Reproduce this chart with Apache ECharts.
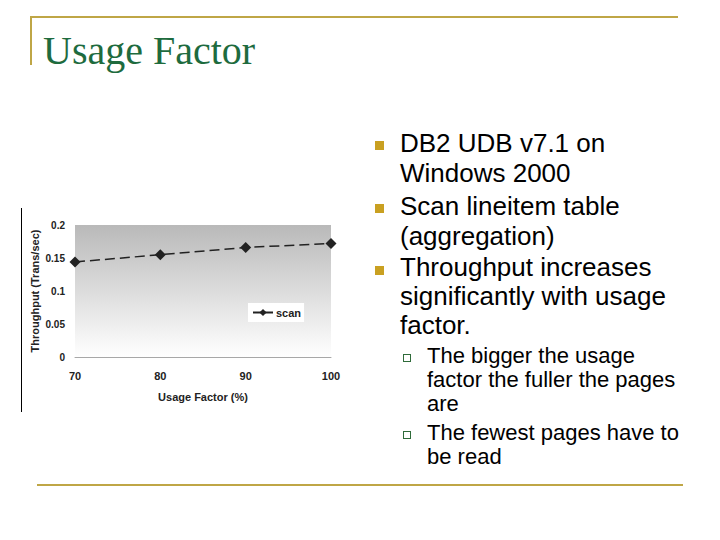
<!DOCTYPE html>
<html>
<head>
<meta charset="utf-8">
<script src="https://cdn.jsdelivr.net/npm/echarts@6/dist/echarts.min.js"></script>
<style>
  html, body { margin: 0; padding: 0; background: #fff; }
  .slide { position: relative; width: 720px; height: 540px; overflow: hidden; font-family: "Liberation Sans", Arial, sans-serif; }
  .topline { position: absolute; left: 30px; top: 16px; width: 648px; height: 2px; background: #bfa646; }
  .sideline { position: absolute; left: 30px; top: 16px; width: 2px; height: 49px; background: #bfa646; }
  .bottomline { position: absolute; left: 37px; top: 484px; width: 646px; height: 2px; background: #bfa646; }
  .title { position: absolute; left: 43px; top: 28px; font-family: "Liberation Serif", "Times New Roman", serif; font-size: 40px; line-height: 46px; color: #1e6b3e; }
  .chartframe { position: absolute; left: 21px; top: 208px; width: 1px; height: 204px; background: #000; }
  #chart { position: absolute; left: 0; top: 200px; width: 350px; height: 230px; }
  .b1 { position: absolute; left: 400px; font-size: 26px; line-height: 30px; color: #000; }
  .b2 { position: absolute; left: 427px; font-size: 22px; line-height: 24px; color: #000; }
  .sq { position: absolute; left: 375px; width: 9px; height: 9px; background: #c9a021; }
  .hq { position: absolute; left: 403px; width: 6px; height: 6px; border: 1px solid #2f6b3a; }
</style>
</head>
<body>
<div class="slide">
  <div class="topline"></div>
  <div class="sideline"></div>
  <div class="title">Usage Factor</div>

  <div class="chartframe"></div>
  <div id="chart"></div>

  <div class="sq" style="top:141px"></div>
  <div class="b1" style="top:128px">DB2 UDB v7.1 on<br>Windows 2000</div>
  <div class="sq" style="top:204px"></div>
  <div class="b1" style="top:191px">Scan lineitem table<br>(aggregation)</div>
  <div class="sq" style="top:266px"></div>
  <div class="b1" style="top:253px; line-height:29px">Throughput increases<br>significantly with usage<br>factor.</div>

  <div class="hq" style="top:354px"></div>
  <div class="b2" style="top:344px">The bigger the usage<br>factor the fuller the pages<br>are</div>
  <div class="hq" style="top:431px"></div>
  <div class="b2" style="top:421px">The fewest pages have to<br>be read</div>

  <div class="bottomline"></div>
</div>

<script>
// data
const usage = ['70', '80', '90', '100'];
const scan = [0.144, 0.155, 0.166, 0.172];
const yTicks = { min: 0, max: 0.2, interval: 0.05 };

let mycharts = echarts.init(document.getElementById('chart'), null, { renderer: 'svg' });
const lbl = { color: '#222', fontSize: 11, fontWeight: 'bold', fontFamily: 'Liberation Sans, Arial, sans-serif' };

mycharts.setOption({
    animation: false,
    grid: {
        show: true,
        left: 75,
        top: 25,
        right: 19,
        bottom: 73,
        borderWidth: 0,
        backgroundColor: {
            type: 'linear', x: 0, y: 0, x2: 0, y2: 1,
            colorStops: [
                { offset: 0, color: '#b9b9b9' },
                { offset: 1, color: '#ffffff' }
            ]
        }
    },
    legend: {
        left: 248,
        top: 103,
        backgroundColor: '#fff',
        padding: [4, 3, 4, 4],
        itemWidth: 20,
        itemHeight: 9,
        itemGap: 4,
        lineStyle: { type: 'solid' },
        textStyle: Object.assign({}, lbl, { padding: [0, 0, 0, -2] }),
        data: ['scan']
    },
    xAxis: {
        type: 'category',
        data: usage,
        boundaryGap: false,
        name: 'Usage Factor (%)',
        nameLocation: 'middle',
        nameGap: 34,
        nameTextStyle: lbl,
        axisLine: { show: true, lineStyle: { color: '#a8a8a8', width: 1 } },
        axisTick: { show: false },
        axisLabel: Object.assign({ margin: 13 }, lbl),
        splitLine: { show: false }
    },
    yAxis: {
        type: 'value',
        min: yTicks.min,
        max: yTicks.max,
        interval: yTicks.interval,
        name: 'Throughput (Trans/sec)',
        nameLocation: 'middle',
        nameGap: 35,
        nameMoveOverlap: false,
        nameTextStyle: Object.assign({}, lbl, { fontSize: 11 }),
        axisLine: { show: false },
        axisTick: { show: false },
        axisLabel: Object.assign({ margin: 10 }, lbl, { fontSize: 10 }),
        splitLine: { show: false }
    },
    series: [
        {
            name: 'scan',
            type: 'line',
            data: scan,
            symbol: 'diamond',
            symbolSize: 11,
            itemStyle: { color: '#222' },
            lineStyle: { color: '#222', width: 1.5, type: [10, 5] }
        }
    ]
});
</script>
</body>
</html>
